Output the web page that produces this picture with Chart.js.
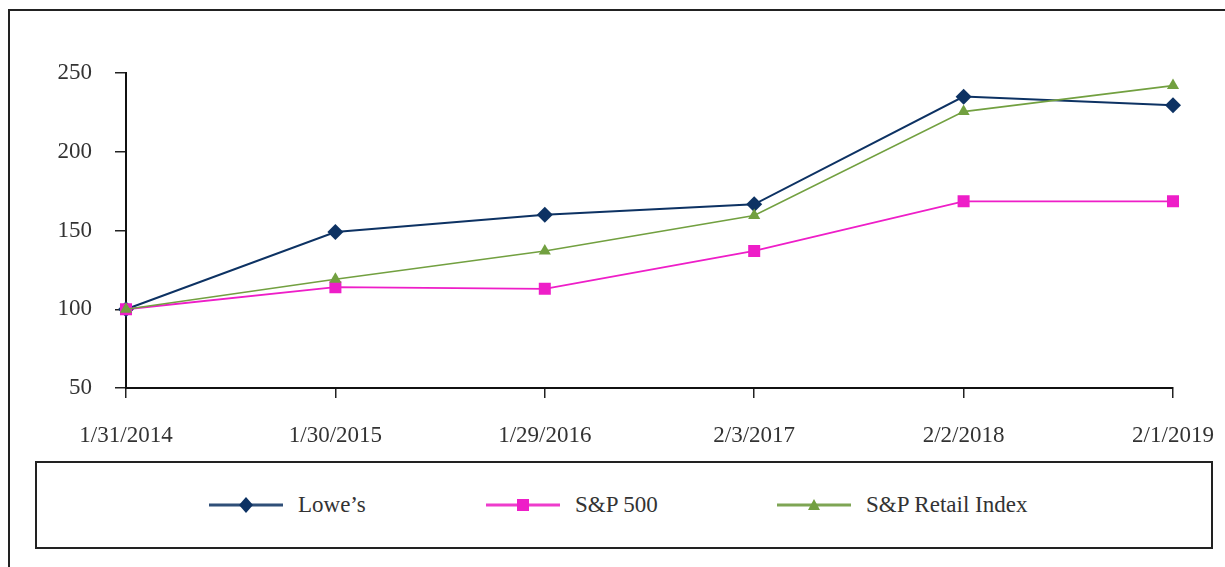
<!DOCTYPE html>
<html>
<head>
<meta charset="utf-8">
<script src="https://cdn.jsdelivr.net/npm/chart.js@4.4.1/dist/chart.umd.min.js"></script>
<style>
  html, body { margin: 0; padding: 0; background: #fff; }
  body { width: 1225px; height: 567px; position: relative; overflow: hidden; font-family: "Liberation Serif", "DejaVu Serif", serif; }
  #frame { position: absolute; left: 8px; top: 9px; width: 1240px; height: 600px; border: 2px solid #222; box-sizing: border-box; }
  #wrap { position: absolute; left: 0; top: 0; width: 1225px; height: 460px; }
  #legend {
    position: absolute; left: 35px; top: 461px; width: 1178px; height: 88px;
    border: 2px solid #222; box-sizing: border-box;
    font-size: 23px; color: #333;
  }
  .item { position: absolute; top: 0; height: 84px; display: flex; align-items: center; }
  .item svg { margin-right: 15px; }
</style>
</head>
<body>
<div id="frame"></div>
<div id="wrap"><canvas id="chart"></canvas></div>
<div id="legend"></div>
<script>
const categories = ['1/31/2014', '1/30/2015', '1/29/2016', '2/3/2017', '2/2/2018', '2/1/2019'];
const lowes = [100, 149, 160, 166.6, 235, 229.5];
const sp500 = [100, 114, 113, 137, 168.5, 168.5];
const retail = [100, 119, 137, 159.5, 225.5, 242];
const yTicks = [50, 100, 150, 200, 250];

const series = [
  { label: 'Lowe\u2019s', data: lowes, color: '#0d3263', legendLine: '#2f4f78', style: 'rectRot', radius: 8, width: 2 },
  { label: 'S&P 500', data: sp500, color: '#ee1ec8', legendLine: '#ee3ccc', style: 'rect', radius: 8.5, width: 1.8 },
  { label: 'S&P Retail Index', data: retail, color: '#72a040', legendLine: '#7ea554', style: 'triangle', radius: 7, width: 1.6 }
];

const font = { family: '"Liberation Serif", serif', size: 23 };

new Chart(document.getElementById('chart'), {
  type: 'line',
  data: {
    labels: categories,
    datasets: series.map(s => ({
      label: s.label,
      data: s.data,
      borderColor: s.color,
      backgroundColor: s.color,
      borderWidth: s.width,
      pointStyle: s.style,
      pointRadius: s.radius,
      pointBorderWidth: 0,
      tension: 0
    })).reverse()
  },
  options: {
    responsive: true,
    maintainAspectRatio: false,
    animation: false,
    layout: { padding: { top: 73, right: 52, left: 0, bottom: 0 } },
    plugins: { legend: { display: false }, tooltip: { enabled: false } },
    scales: {
      x: {
        offset: false,
        grid: { drawOnChartArea: false, drawTicks: true, tickLength: 10, color: '#222', lineWidth: 1.5 },
        border: { color: '#111', width: 2 },
        ticks: { color: '#333', font, padding: 24, maxRotation: 0, autoSkip: false },
        afterFit: scale => { scale.height = 72; scale.paddingLeft = 0; scale.paddingRight = 0; }
      },
      y: {
        min: 50,
        max: 250,
        afterBuildTicks: scale => { scale.ticks = yTicks.map(v => ({ value: v })); },
        grid: { drawOnChartArea: false, drawTicks: true, tickLength: 11, color: '#222', lineWidth: 1.5 },
        border: { color: '#111', width: 2 },
        ticks: { color: '#333', font, padding: 23 },
        afterFit: scale => { scale.width = 126; scale.paddingTop = 0; scale.paddingBottom = 0; }
      }
    }
  }
});

// legend, placed like the original box
const legend = document.getElementById('legend');
const itemLeft = [172, 449, 740];
series.forEach((s, i) => {
  const item = document.createElement('div');
  item.className = 'item';
  item.style.left = itemLeft[i] + 'px';
  let marker = '';
  if (s.style === 'rectRot') marker = '<polygon points="37,3 44,11 37,19 30,11" fill="' + s.color + '"/>';
  if (s.style === 'rect') marker = '<rect x="31" y="5" width="12" height="12" fill="' + s.color + '"/>';
  if (s.style === 'triangle') marker = '<polygon points="37,5 43,16 31,16" fill="' + s.color + '"/>';
  item.innerHTML = '<svg width="74" height="22"><line x1="0" y1="11" x2="74" y2="11" stroke="' + s.legendLine + '" stroke-width="3"/>' + marker + '</svg><span></span>';
  item.querySelector('span').textContent = s.label;
  legend.appendChild(item);
});
</script>
</body>
</html>
